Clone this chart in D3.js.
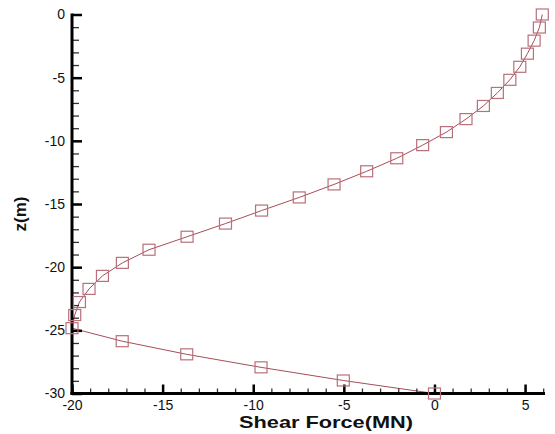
<!DOCTYPE html>
<html>
<head>
<meta charset="utf-8">
<script src="https://cdn.jsdelivr.net/npm/d3@7"></script>
<style>
  body { margin: 0; background: #fff; }
  text { font-family: "Liberation Sans", Arial, sans-serif; }
</style>
</head>
<body>
<script>
// shear force (MN), top to bottom
const shearForce = [
  5.95, 5.79, 5.5, 5.13, 4.71, 4.16, 3.47, 2.7, 1.74, 0.66,
  -0.65, -2.08, -3.74, -5.54, -7.46, -9.54, -11.53, -13.65, -15.75, -17.22,
  -18.32, -19.06, -19.59, -19.85, -20.0, -17.23, -13.67, -9.57, -5.03, 0.0,
]
// depth z (m)
const depth = [
  0, -1.03, -2.07, -3.1, -4.14, -5.17, -6.21, -7.24, -8.28, -9.31,
  -10.34, -11.38, -12.41, -13.45, -14.48, -15.52, -16.55, -17.59, -18.62, -19.66,
  -20.69, -21.72, -22.76, -23.79, -24.83, -25.86, -26.9, -27.93, -28.97, -30,
]
const xTicks = [-20, -15, -10, -5, 0, 5]
const yTicks = [0, -5, -10, -15, -20, -25, -30]

const width = 555
const height = 434
const lineColor = '#a64d5a'
const markColor = '#b8707a'

const data = shearForce.map((v, i) => [v, depth[i]])

const x = d3.scaleLinear().domain([-20, 6.1]).range([72, 545])
const y = d3.scaleLinear().domain([0, -30]).range([14.5, 393.5])

// plain hyphen minus, like the original
const fmt = (d) => String(d)

const svg = d3.select('body')
  .append('svg')
  .attr('width', width)
  .attr('height', height)

// data line
svg.append('path')
  .datum(data)
  .attr('fill', 'none')
  .attr('stroke', lineColor)
  .attr('stroke-width', 1)
  .attr('d', d3.line().x((d) => x(d[0])).y((d) => y(d[1])))

// axes
const xMinor = d3.range(-20, 7, 1)
const yMinor = d3.range(0, -31, -1)

const gx = svg.append('g').attr('transform', `translate(0,${y(-30)})`)
gx.append('g')
  .call(d3.axisBottom(x).tickValues(xMinor).tickSize(-5).tickFormat(''))
  .call((g) => g.select('.domain').remove())
  .call((g) => g.selectAll('line').attr('stroke-width', 1.3).attr('stroke', '#333'))
gx.append('g')
  .call(d3.axisBottom(x).tickValues(xTicks).tickSize(-9).tickPadding(3).tickFormat(fmt))
  .call((g) => g.select('.domain').remove())
  .call((g) => g.selectAll('line').attr('stroke-width', 2.5).attr('stroke', '#000'))
  .call((g) => g.selectAll('text').attr('font-size', 14).attr('fill', '#111')
    .attr('font-family', '"Liberation Sans", Arial, sans-serif').attr('dy', '0.95em'))

const gy = svg.append('g').attr('transform', `translate(${x(-20)},0)`)
gy.append('g')
  .call(d3.axisLeft(y).tickValues(yMinor).tickSize(-7).tickFormat(''))
  .call((g) => g.select('.domain').remove())
  .call((g) => g.selectAll('line').attr('stroke-width', 1.3).attr('stroke', '#333'))
gy.append('g')
  .call(d3.axisLeft(y).tickValues(yTicks).tickSize(-10).tickPadding(7).tickFormat(fmt))
  .call((g) => g.select('.domain').remove())
  .call((g) => g.selectAll('line').attr('stroke-width', 2.5).attr('stroke', '#000'))
  .call((g) => g.selectAll('text').attr('font-size', 14).attr('fill', '#111')
    .attr('font-family', '"Liberation Sans", Arial, sans-serif'))

// axis lines
svg.append('line')
  .attr('x1', x(-20)).attr('x2', x(-20))
  .attr('y1', y(0) - 1).attr('y2', y(-30) + 1.5)
  .attr('stroke', '#000').attr('stroke-width', 3)
svg.append('line')
  .attr('x1', x(-20) - 1.5).attr('x2', x(6.1))
  .attr('y1', y(-30)).attr('y2', y(-30))
  .attr('stroke', '#000').attr('stroke-width', 3)

// markers
svg.append('g')
  .selectAll('rect')
  .data(data)
  .join('rect')
  .attr('x', (d) => x(d[0]) - 6)
  .attr('y', (d) => y(d[1]) - 5.5)
  .attr('width', 12)
  .attr('height', 11)
  .attr('fill', 'none')
  .attr('stroke', markColor)
  .attr('stroke-width', 1.2)

// axis titles
svg.append('text')
  .attr('x', 326)
  .attr('y', 428)
  .attr('text-anchor', 'middle')
  .attr('font-size', 16.5)
  .attr('font-weight', 'bold')
  .attr('textLength', 174)
  .attr('lengthAdjust', 'spacingAndGlyphs')
  .attr('fill', '#111')
  .text('Shear Force(MN)')

svg.append('text')
  .attr('transform', 'translate(26,214) rotate(-90)')
  .attr('text-anchor', 'middle')
  .attr('font-size', 17)
  .attr('font-weight', 'bold')
  .attr('fill', '#111')
  .text('z(m)')
</script>
</body>
</html>
